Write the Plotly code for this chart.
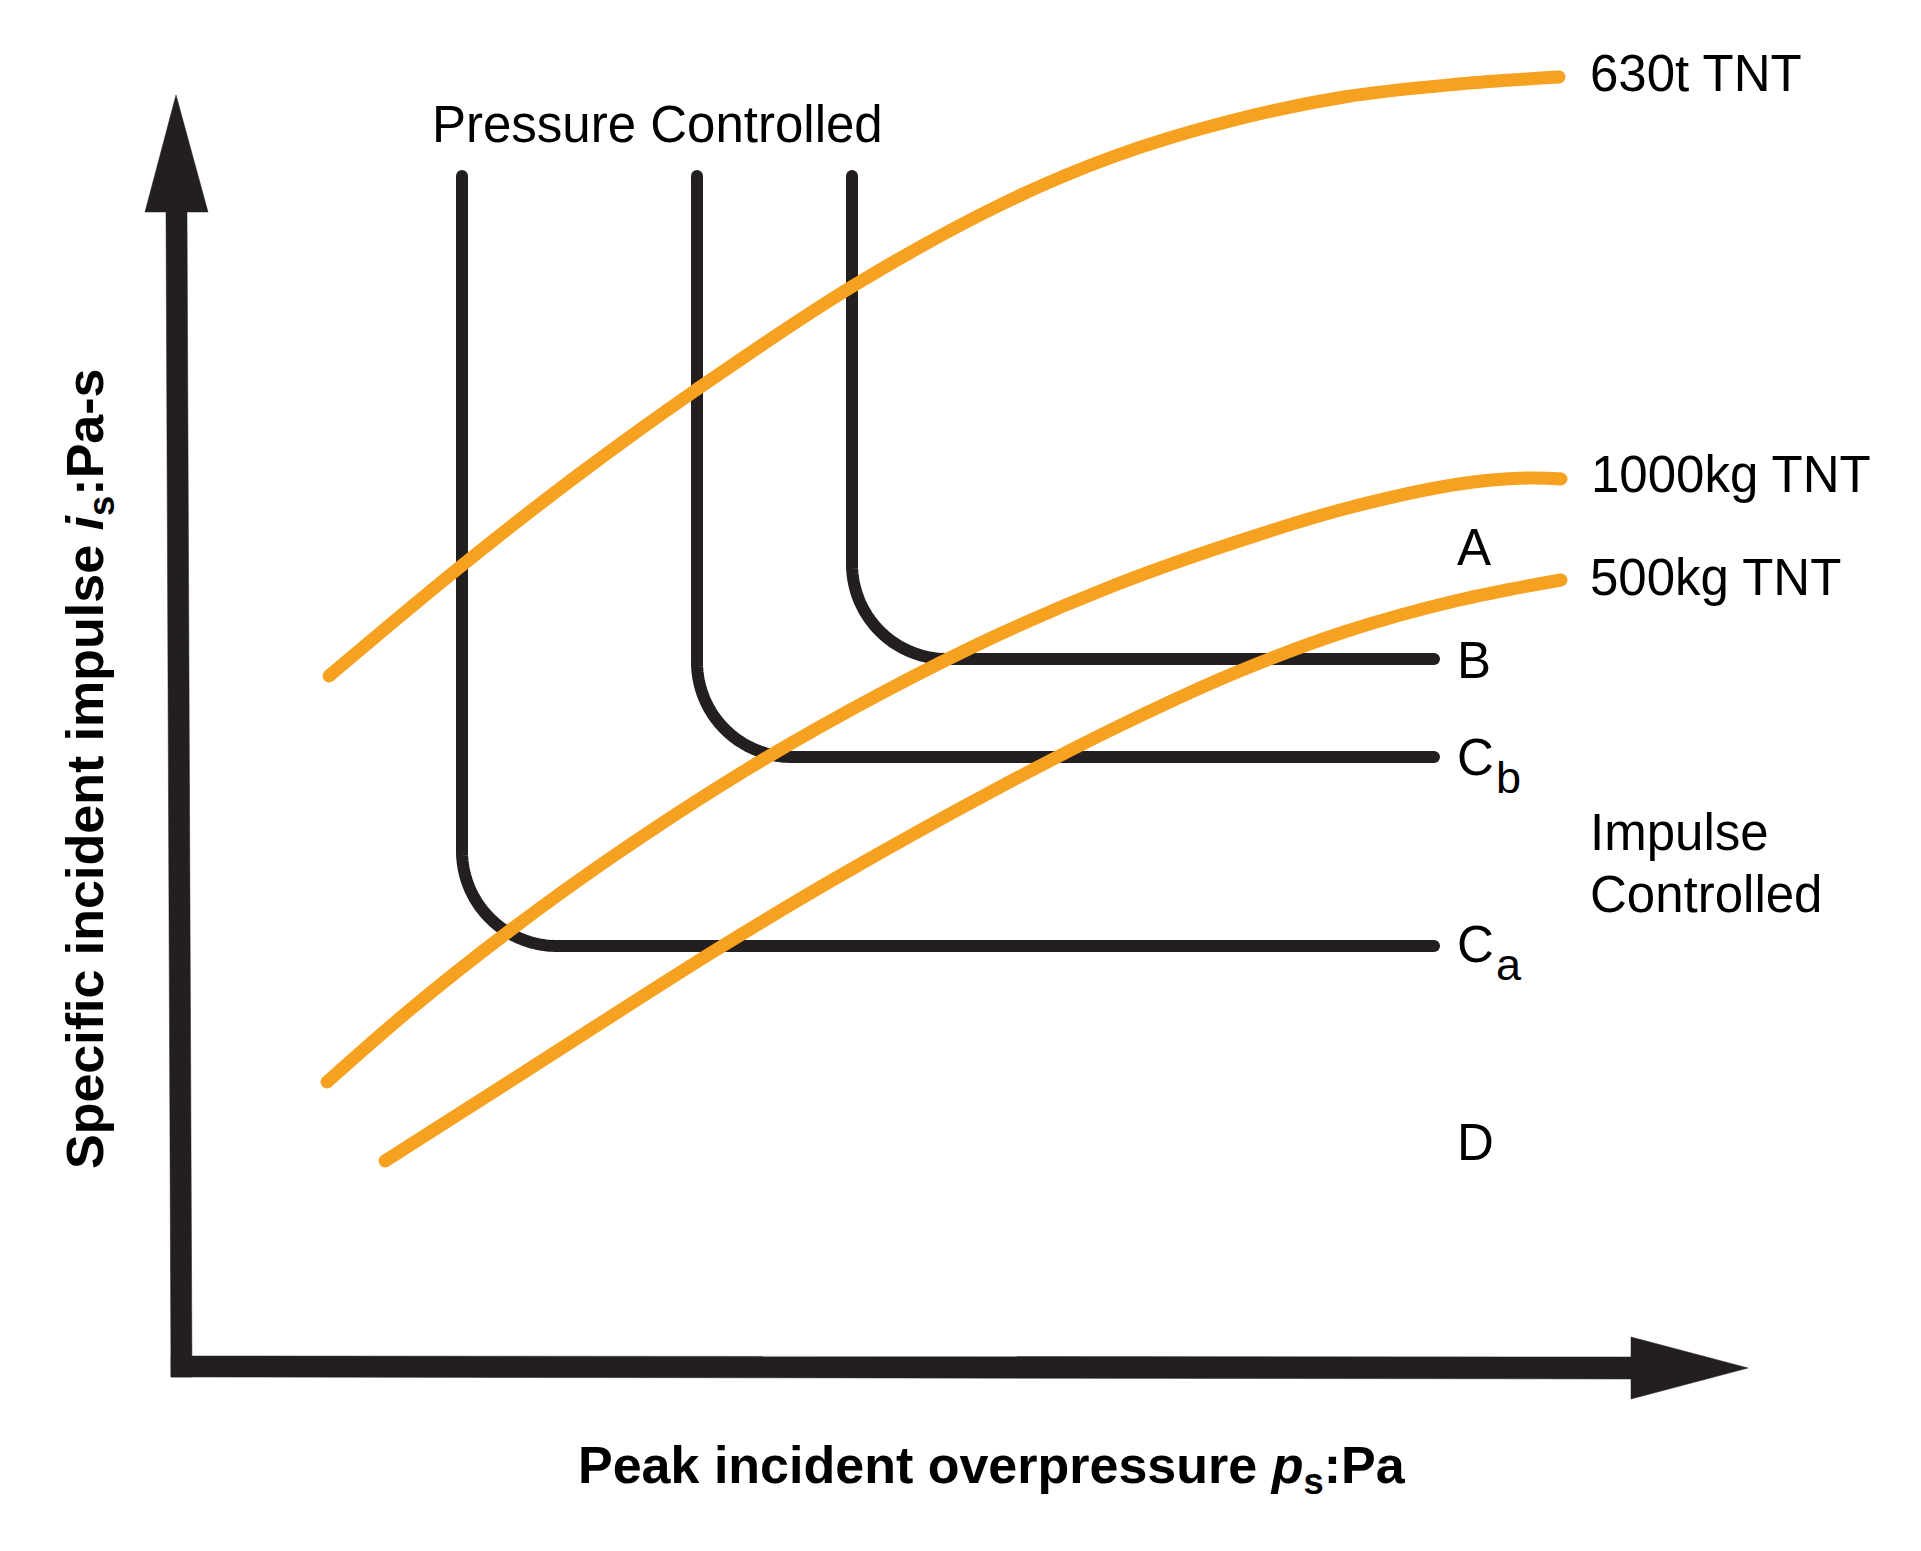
import numpy as np
import plotly.graph_objects as go

# ---------------- Data (schematic units, origin at the axes corner) ----------------
# Blast-load curves: peak incident overpressure (p) vs specific incident impulse (i)
tnt_630t_p = [147, 278, 396, 514, 671, 820, 933, 1048, 1162, 1277, 1377]
tnt_630t_i = [691, 800, 892, 977, 1081, 1163, 1211, 1246, 1270, 1283, 1290]

tnt_1000kg_p = [145, 230, 326, 430, 564, 698, 818, 933, 1048, 1162, 1277, 1346, 1379]
tnt_1000kg_i = [285, 359, 435, 510, 597, 673, 733, 782, 823, 858, 883, 889, 888]

tnt_500kg_p = [203, 341, 529, 654, 818, 933, 1048, 1162, 1277, 1379]
tnt_500kg_i = [206, 294, 414, 489, 580, 639, 692, 735, 767, 787]

curve_labels = ["630t TNT", "1000kg TNT", "500kg TNT"]
curve_label_p = [1406, 1407, 1406]
curve_label_i = [1294, 893, 790]

# Damage-level (P-I) boundaries
boundary_p = [280, 515, 670]      # pressure asymptotes (Ca, Cb, B)
boundary_i = [421, 610, 708]      # impulse asymptotes (Ca, Cb, B)
boundary_top = 1191
boundary_right = 1252
corner_radius = 95

region_labels = ["A", "B", "C", "C", "D"]
region_label_i = [820, 707, 610, 423, 225]
region_label_p = 1273
region_sub_labels = ["b", "a"]
region_sub_i = [590, 403]
region_sub_p = 1312

ORANGE = "#F7A121"
BLACK = "#231F20"
FONT = "Liberation Sans, Arial, Helvetica, sans-serif"

# Axis frame (arrows)
yshaft_p = [-16, 5, 10, -11]
yshaft_i = [1155, 1155, -10, -10]
yhead_p = [-37, 26, -6]
yhead_i = [1155, 1155, 1272]
xshaft_p = [-11, 1449, 1449, -11]
xshaft_i = [11, 10, -12, -10]
xhead_p = [1449, 1449, 1566]
xhead_i = [30, -32, -1]

fig = go.Figure()

# axes arrows
for px_, py_ in [(yshaft_p, yshaft_i), (yhead_p, yhead_i), (xshaft_p, xshaft_i), (xhead_p, xhead_i)]:
    fig.add_trace(go.Scatter(x=px_ + [px_[0]], y=py_ + [py_[0]], mode="lines", fill="toself",
                             fillcolor=BLACK, line=dict(color=BLACK, width=0.5, simplify=False),
                             hoverinfo="skip", showlegend=False))

# boundaries (black L-curves with rounded corner)
theta = np.linspace(np.pi, 1.5 * np.pi, 60)
for p, i in zip(boundary_p, boundary_i):
    cx, cy = p + corner_radius, i + corner_radius
    xs = [p] + list(cx + corner_radius * np.cos(theta)) + [boundary_right]
    ys = [boundary_top] + list(cy + corner_radius * np.sin(theta)) + [i]
    fig.add_trace(go.Scatter(x=xs, y=ys, mode="lines",
                             line=dict(color=BLACK, width=12, simplify=False),
                             hoverinfo="skip", showlegend=False))
    fig.add_trace(go.Scatter(x=[p, boundary_right], y=[boundary_top, i], mode="markers",
                             marker=dict(color=BLACK, size=12, line=dict(width=0)),
                             hoverinfo="skip", showlegend=False))

# TNT curves (orange)
for xs, ys in [(tnt_630t_p, tnt_630t_i), (tnt_1000kg_p, tnt_1000kg_i), (tnt_500kg_p, tnt_500kg_i)]:
    fig.add_trace(go.Scatter(x=xs, y=ys, mode="lines",
                             line=dict(color=ORANGE, width=13, shape="spline", smoothing=1.0,
                                       simplify=False),
                             hoverinfo="skip", showlegend=False))
    fig.add_trace(go.Scatter(x=[xs[0], xs[-1]], y=[ys[0], ys[-1]], mode="markers",
                             marker=dict(color=ORANGE, size=13, line=dict(width=0)),
                             hoverinfo="skip", showlegend=False))

annotations = []
for t, x, y in zip(curve_labels, curve_label_p, curve_label_i):
    annotations.append(dict(x=x, y=y, text=t, xanchor="left", yanchor="middle", size=51))
for t, y in zip(region_labels, region_label_i):
    annotations.append(dict(x=region_label_p, y=y, text=t, xanchor="left", yanchor="middle", size=51))
for t, y in zip(region_sub_labels, region_sub_i):
    annotations.append(dict(x=region_sub_p, y=y, text=t, xanchor="left", yanchor="middle", size=45))
annotations.append(dict(x=475, y=1243, text="Pressure Controlled", xanchor="center", yanchor="middle", size=51))
annotations.append(dict(x=1406, y=535, text="Impulse", xanchor="left", yanchor="middle", size=51))
annotations.append(dict(x=1406, y=473, text="Controlled", xanchor="left", yanchor="middle", size=51))
ann_objs = []
for a in annotations:
    s = a.pop("size")
    a.update(xref="x", yref="y", showarrow=False, font=dict(family=FONT, size=s, color="#000000"))
    ann_objs.append(a)

ann_objs.append(dict(x=810, y=-102, xref="x", yref="y", showarrow=False,
                     text="<b>Peak incident overpressure <i>p</i><sub>s</sub>:Pa</b>",
                     xanchor="center", yanchor="middle",
                     font=dict(family=FONT, size=52, color="#000000")))
ann_objs.append(dict(x=-93, y=598, xref="x", yref="y", showarrow=False, textangle=-90,
                     text="<b>Specific incident impulse <i>i</i><sub>s</sub>:Pa-s</b>",
                     xanchor="center", yanchor="middle",
                     font=dict(family=FONT, size=52, color="#000000")))

fig.update_layout(
    width=1921, height=1551, autosize=False,
    margin=dict(l=0, r=0, t=0, b=0, pad=0),
    paper_bgcolor="white", plot_bgcolor="white",
    showlegend=False,
    xaxis=dict(range=[-182, 1739], visible=False, fixedrange=True),
    yaxis=dict(range=[-184, 1367], visible=False, fixedrange=True),
    annotations=ann_objs,
)

fig.write_html("out.html", config={"displayModeBar": False},
               post_script="document.body.style.margin='0';document.body.style.overflow='hidden';")
